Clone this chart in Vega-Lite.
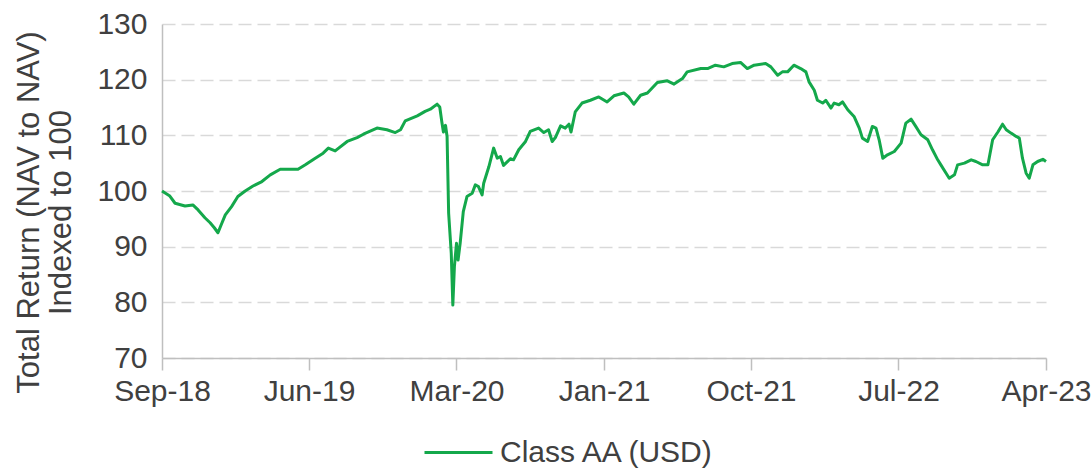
{
  "$schema": "https://vega.github.io/schema/vega-lite/v6.json",
  "width": 884,
  "height": 334,
  "autosize": {"type": "none"},
  "padding": {"left": 162, "top": 24, "right": 46, "bottom": 110},
  "background": "white",
  "config": {
    "view": {"stroke": null},
    "font": "Liberation Sans",
    "axis": {"labelFont": "Liberation Sans", "titleFont": "Liberation Sans", "labelColor": "#404040", "titleColor": "#404040"},
    "legend": {"labelFont": "Liberation Sans"}
  },
  "data": {
    "values": [
      {"date": "2018-09-10", "series": "Class AA (USD)", "value": 100.0},
      {"date": "2018-09-25", "series": "Class AA (USD)", "value": 99.1},
      {"date": "2018-10-05", "series": "Class AA (USD)", "value": 97.8},
      {"date": "2018-10-24", "series": "Class AA (USD)", "value": 97.3},
      {"date": "2018-11-08", "series": "Class AA (USD)", "value": 97.5},
      {"date": "2018-11-18", "series": "Class AA (USD)", "value": 96.6},
      {"date": "2018-12-01", "series": "Class AA (USD)", "value": 95.2},
      {"date": "2018-12-11", "series": "Class AA (USD)", "value": 94.3},
      {"date": "2018-12-19", "series": "Class AA (USD)", "value": 93.4},
      {"date": "2018-12-26", "series": "Class AA (USD)", "value": 92.5},
      {"date": "2019-01-01", "series": "Class AA (USD)", "value": 93.9},
      {"date": "2019-01-09", "series": "Class AA (USD)", "value": 95.7},
      {"date": "2019-01-21", "series": "Class AA (USD)", "value": 97.2},
      {"date": "2019-02-02", "series": "Class AA (USD)", "value": 99.0},
      {"date": "2019-02-16", "series": "Class AA (USD)", "value": 100.0},
      {"date": "2019-03-03", "series": "Class AA (USD)", "value": 100.9},
      {"date": "2019-03-20", "series": "Class AA (USD)", "value": 101.7},
      {"date": "2019-04-05", "series": "Class AA (USD)", "value": 102.9},
      {"date": "2019-04-24", "series": "Class AA (USD)", "value": 103.9},
      {"date": "2019-05-09", "series": "Class AA (USD)", "value": 103.9},
      {"date": "2019-05-28", "series": "Class AA (USD)", "value": 103.9},
      {"date": "2019-06-11", "series": "Class AA (USD)", "value": 104.7},
      {"date": "2019-06-30", "series": "Class AA (USD)", "value": 105.9},
      {"date": "2019-07-15", "series": "Class AA (USD)", "value": 106.8},
      {"date": "2019-07-25", "series": "Class AA (USD)", "value": 107.7},
      {"date": "2019-08-07", "series": "Class AA (USD)", "value": 107.2},
      {"date": "2019-08-30", "series": "Class AA (USD)", "value": 108.9},
      {"date": "2019-09-18", "series": "Class AA (USD)", "value": 109.6},
      {"date": "2019-09-30", "series": "Class AA (USD)", "value": 110.2},
      {"date": "2019-10-26", "series": "Class AA (USD)", "value": 111.3},
      {"date": "2019-11-14", "series": "Class AA (USD)", "value": 111.0},
      {"date": "2019-11-30", "series": "Class AA (USD)", "value": 110.5},
      {"date": "2019-12-10", "series": "Class AA (USD)", "value": 111.0},
      {"date": "2019-12-19", "series": "Class AA (USD)", "value": 112.6},
      {"date": "2020-01-11", "series": "Class AA (USD)", "value": 113.5},
      {"date": "2020-01-26", "series": "Class AA (USD)", "value": 114.3},
      {"date": "2020-02-05", "series": "Class AA (USD)", "value": 114.7},
      {"date": "2020-02-18", "series": "Class AA (USD)", "value": 115.6},
      {"date": "2020-02-23", "series": "Class AA (USD)", "value": 115.1},
      {"date": "2020-02-27", "series": "Class AA (USD)", "value": 112.4},
      {"date": "2020-03-01", "series": "Class AA (USD)", "value": 110.6},
      {"date": "2020-03-05", "series": "Class AA (USD)", "value": 111.8},
      {"date": "2020-03-08", "series": "Class AA (USD)", "value": 109.8},
      {"date": "2020-03-11", "series": "Class AA (USD)", "value": 96.0},
      {"date": "2020-03-16", "series": "Class AA (USD)", "value": 88.8},
      {"date": "2020-03-19", "series": "Class AA (USD)", "value": 79.5},
      {"date": "2020-03-22", "series": "Class AA (USD)", "value": 86.4},
      {"date": "2020-03-26", "series": "Class AA (USD)", "value": 90.6},
      {"date": "2020-03-29", "series": "Class AA (USD)", "value": 87.6},
      {"date": "2020-04-02", "series": "Class AA (USD)", "value": 90.6},
      {"date": "2020-04-08", "series": "Class AA (USD)", "value": 96.3},
      {"date": "2020-04-15", "series": "Class AA (USD)", "value": 99.0},
      {"date": "2020-04-25", "series": "Class AA (USD)", "value": 99.6},
      {"date": "2020-05-01", "series": "Class AA (USD)", "value": 101.1},
      {"date": "2020-05-07", "series": "Class AA (USD)", "value": 100.8},
      {"date": "2020-05-14", "series": "Class AA (USD)", "value": 99.3},
      {"date": "2020-05-17", "series": "Class AA (USD)", "value": 101.4},
      {"date": "2020-05-27", "series": "Class AA (USD)", "value": 104.4},
      {"date": "2020-06-05", "series": "Class AA (USD)", "value": 107.7},
      {"date": "2020-06-12", "series": "Class AA (USD)", "value": 105.9},
      {"date": "2020-06-18", "series": "Class AA (USD)", "value": 106.2},
      {"date": "2020-06-24", "series": "Class AA (USD)", "value": 104.6},
      {"date": "2020-07-07", "series": "Class AA (USD)", "value": 105.8},
      {"date": "2020-07-13", "series": "Class AA (USD)", "value": 105.6},
      {"date": "2020-07-23", "series": "Class AA (USD)", "value": 107.4},
      {"date": "2020-08-05", "series": "Class AA (USD)", "value": 108.9},
      {"date": "2020-08-14", "series": "Class AA (USD)", "value": 110.7},
      {"date": "2020-08-30", "series": "Class AA (USD)", "value": 111.3},
      {"date": "2020-09-09", "series": "Class AA (USD)", "value": 110.5},
      {"date": "2020-09-18", "series": "Class AA (USD)", "value": 111.0},
      {"date": "2020-09-25", "series": "Class AA (USD)", "value": 108.9},
      {"date": "2020-10-01", "series": "Class AA (USD)", "value": 109.6},
      {"date": "2020-10-11", "series": "Class AA (USD)", "value": 111.7},
      {"date": "2020-10-20", "series": "Class AA (USD)", "value": 111.3},
      {"date": "2020-10-27", "series": "Class AA (USD)", "value": 112.0},
      {"date": "2020-10-31", "series": "Class AA (USD)", "value": 110.6},
      {"date": "2020-11-08", "series": "Class AA (USD)", "value": 114.2},
      {"date": "2020-11-21", "series": "Class AA (USD)", "value": 115.8},
      {"date": "2020-12-07", "series": "Class AA (USD)", "value": 116.3},
      {"date": "2020-12-23", "series": "Class AA (USD)", "value": 116.9},
      {"date": "2021-01-08", "series": "Class AA (USD)", "value": 116.0},
      {"date": "2021-01-21", "series": "Class AA (USD)", "value": 117.1},
      {"date": "2021-02-09", "series": "Class AA (USD)", "value": 117.6},
      {"date": "2021-02-18", "series": "Class AA (USD)", "value": 116.9},
      {"date": "2021-02-28", "series": "Class AA (USD)", "value": 115.6},
      {"date": "2021-03-13", "series": "Class AA (USD)", "value": 117.2},
      {"date": "2021-03-26", "series": "Class AA (USD)", "value": 117.6},
      {"date": "2021-04-14", "series": "Class AA (USD)", "value": 119.5},
      {"date": "2021-05-03", "series": "Class AA (USD)", "value": 119.8},
      {"date": "2021-05-16", "series": "Class AA (USD)", "value": 119.2},
      {"date": "2021-06-01", "series": "Class AA (USD)", "value": 120.2},
      {"date": "2021-06-10", "series": "Class AA (USD)", "value": 121.4},
      {"date": "2021-07-06", "series": "Class AA (USD)", "value": 122.0},
      {"date": "2021-07-19", "series": "Class AA (USD)", "value": 122.0},
      {"date": "2021-08-03", "series": "Class AA (USD)", "value": 122.6},
      {"date": "2021-08-19", "series": "Class AA (USD)", "value": 122.3},
      {"date": "2021-09-04", "series": "Class AA (USD)", "value": 122.9},
      {"date": "2021-09-20", "series": "Class AA (USD)", "value": 123.1},
      {"date": "2021-10-03", "series": "Class AA (USD)", "value": 122.0},
      {"date": "2021-10-16", "series": "Class AA (USD)", "value": 122.6},
      {"date": "2021-11-07", "series": "Class AA (USD)", "value": 122.9},
      {"date": "2021-11-17", "series": "Class AA (USD)", "value": 122.3},
      {"date": "2021-11-30", "series": "Class AA (USD)", "value": 120.8},
      {"date": "2021-12-09", "series": "Class AA (USD)", "value": 121.4},
      {"date": "2021-12-19", "series": "Class AA (USD)", "value": 121.4},
      {"date": "2021-12-31", "series": "Class AA (USD)", "value": 122.6},
      {"date": "2022-01-13", "series": "Class AA (USD)", "value": 122.0},
      {"date": "2022-01-23", "series": "Class AA (USD)", "value": 121.4},
      {"date": "2022-01-29", "series": "Class AA (USD)", "value": 119.6},
      {"date": "2022-02-08", "series": "Class AA (USD)", "value": 118.1},
      {"date": "2022-02-14", "series": "Class AA (USD)", "value": 116.3},
      {"date": "2022-02-24", "series": "Class AA (USD)", "value": 115.8},
      {"date": "2022-03-02", "series": "Class AA (USD)", "value": 116.3},
      {"date": "2022-03-12", "series": "Class AA (USD)", "value": 114.9},
      {"date": "2022-03-18", "series": "Class AA (USD)", "value": 115.8},
      {"date": "2022-03-27", "series": "Class AA (USD)", "value": 115.5},
      {"date": "2022-04-03", "series": "Class AA (USD)", "value": 116.0},
      {"date": "2022-04-13", "series": "Class AA (USD)", "value": 114.6},
      {"date": "2022-04-25", "series": "Class AA (USD)", "value": 113.4},
      {"date": "2022-05-05", "series": "Class AA (USD)", "value": 111.3},
      {"date": "2022-05-11", "series": "Class AA (USD)", "value": 109.5},
      {"date": "2022-05-21", "series": "Class AA (USD)", "value": 108.9},
      {"date": "2022-05-30", "series": "Class AA (USD)", "value": 111.6},
      {"date": "2022-06-06", "series": "Class AA (USD)", "value": 111.3},
      {"date": "2022-06-12", "series": "Class AA (USD)", "value": 109.2},
      {"date": "2022-06-19", "series": "Class AA (USD)", "value": 105.9},
      {"date": "2022-06-28", "series": "Class AA (USD)", "value": 106.5},
      {"date": "2022-07-11", "series": "Class AA (USD)", "value": 107.1},
      {"date": "2022-07-24", "series": "Class AA (USD)", "value": 108.6},
      {"date": "2022-08-02", "series": "Class AA (USD)", "value": 112.2},
      {"date": "2022-08-12", "series": "Class AA (USD)", "value": 112.9},
      {"date": "2022-08-21", "series": "Class AA (USD)", "value": 111.6},
      {"date": "2022-08-31", "series": "Class AA (USD)", "value": 110.1},
      {"date": "2022-09-13", "series": "Class AA (USD)", "value": 109.2},
      {"date": "2022-09-22", "series": "Class AA (USD)", "value": 107.4},
      {"date": "2022-10-02", "series": "Class AA (USD)", "value": 105.6},
      {"date": "2022-10-08", "series": "Class AA (USD)", "value": 104.7},
      {"date": "2022-10-18", "series": "Class AA (USD)", "value": 103.2},
      {"date": "2022-10-24", "series": "Class AA (USD)", "value": 102.3},
      {"date": "2022-11-03", "series": "Class AA (USD)", "value": 102.9},
      {"date": "2022-11-09", "series": "Class AA (USD)", "value": 104.7},
      {"date": "2022-11-22", "series": "Class AA (USD)", "value": 105.0},
      {"date": "2022-12-05", "series": "Class AA (USD)", "value": 105.6},
      {"date": "2022-12-14", "series": "Class AA (USD)", "value": 105.3},
      {"date": "2022-12-27", "series": "Class AA (USD)", "value": 104.7},
      {"date": "2023-01-06", "series": "Class AA (USD)", "value": 104.7},
      {"date": "2023-01-15", "series": "Class AA (USD)", "value": 109.2},
      {"date": "2023-01-25", "series": "Class AA (USD)", "value": 110.6},
      {"date": "2023-02-03", "series": "Class AA (USD)", "value": 112.0},
      {"date": "2023-02-10", "series": "Class AA (USD)", "value": 111.0},
      {"date": "2023-02-19", "series": "Class AA (USD)", "value": 110.4},
      {"date": "2023-03-01", "series": "Class AA (USD)", "value": 109.8},
      {"date": "2023-03-07", "series": "Class AA (USD)", "value": 109.5},
      {"date": "2023-03-13", "series": "Class AA (USD)", "value": 105.9},
      {"date": "2023-03-20", "series": "Class AA (USD)", "value": 103.2},
      {"date": "2023-03-26", "series": "Class AA (USD)", "value": 102.3},
      {"date": "2023-04-02", "series": "Class AA (USD)", "value": 104.7},
      {"date": "2023-04-11", "series": "Class AA (USD)", "value": 105.3},
      {"date": "2023-04-21", "series": "Class AA (USD)", "value": 105.7},
      {"date": "2023-04-27", "series": "Class AA (USD)", "value": 105.3}
    ]
  },
  "mark": {"type": "line", "strokeWidth": 3, "strokeJoin": "round"},
  "encoding": {
    "x": {
      "field": "date",
      "type": "temporal",
      "scale": {"domain": [{"year": 2018, "month": 9, "date": 10}, {"year": 2023, "month": 4, "date": 27}]},
      "axis": {
        "title": null,
        "values": [
          {"year": 2018, "month": 9, "date": 10},
          {"year": 2019, "month": 6, "date": 18},
          {"year": 2020, "month": 3, "date": 26},
          {"year": 2021, "month": 1, "date": 2},
          {"year": 2021, "month": 10, "date": 10},
          {"year": 2022, "month": 7, "date": 19},
          {"year": 2023, "month": 4, "date": 27}
        ],
        "format": "%b-%y",
        "grid": false,
        "domainColor": "#bfbfbf",
        "domainWidth": 1.5,
        "tickColor": "#bfbfbf",
        "tickWidth": 1.5,
        "tickSize": 12,
        "labelPadding": 6,
        "labelFontSize": 30,
        "labelFlush": false,
        "labelOverlap": false
      }
    },
    "y": {
      "field": "value",
      "type": "quantitative",
      "scale": {"domain": [70, 130], "nice": false, "zero": false},
      "axis": {
        "title": ["Total Return (NAV to NAV)", "Indexed to 100"],
        "titleFontSize": 31,
        "titleFontWeight": "normal",
        "titleLineHeight": 32,
        "titleX": -133,
        "titleY": 188,
        "titleAlign": "center",
        "titleBaseline": "middle",
        "titleAngle": 270,
        "values": [70, 80, 90, 100, 110, 120, 130],
        "labelFontSize": 30,
        "labelPadding": 15,
        "ticks": false,
        "grid": true,
        "gridColor": "#d9d9d9",
        "gridWidth": 1.5,
        "gridDash": [13, 6],
        "domainColor": "#bfbfbf",
        "domainWidth": 1.5
      }
    },
    "color": {
      "field": "series",
      "type": "nominal",
      "scale": {"range": ["#14a84b"]},
      "legend": {
        "title": null,
        "orient": "none",
        "legendX": 261,
        "legendY": 393,
        "padding": 0,
        "symbolType": "stroke",
        "symbolSize": 4624,
        "symbolStrokeWidth": 3,
        "labelFontSize": 30,
        "labelColor": "#404040",
        "labelOffset": 6,
        "labelLimit": 400
      }
    }
  }
}
